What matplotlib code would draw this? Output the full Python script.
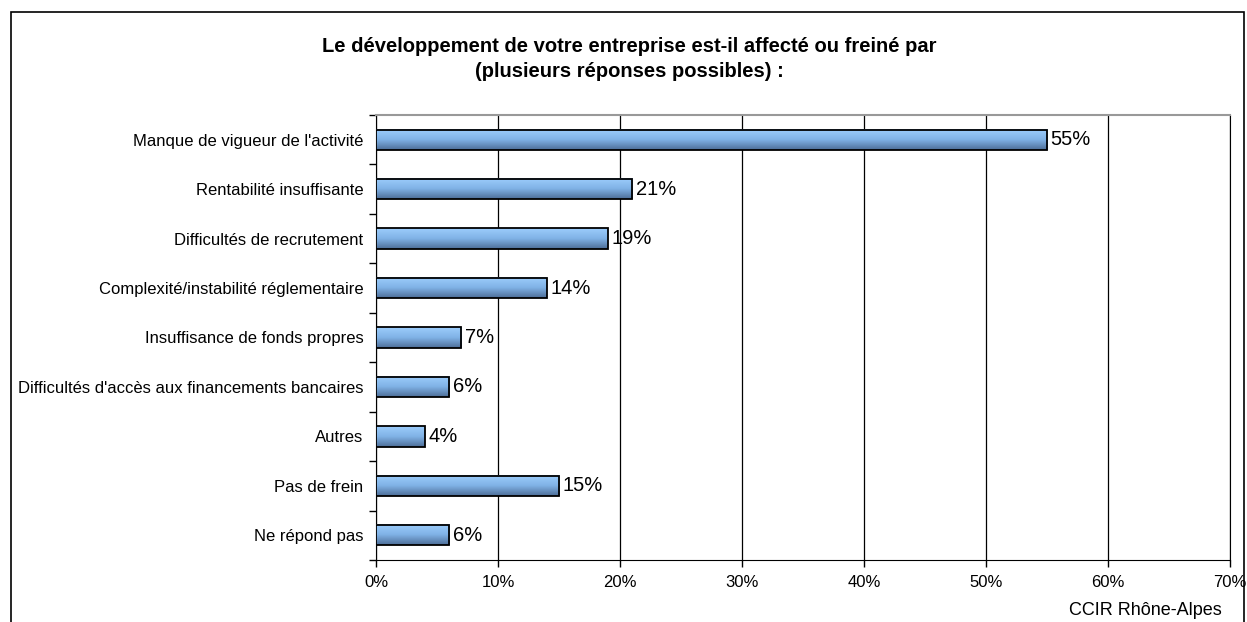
import matplotlib.pyplot as plt
import numpy as np
from matplotlib.patches import Rectangle
from matplotlib.colors import LinearSegmentedColormap

plt.rcParams['font.family'] = ['Liberation Sans', 'DejaVu Sans']

categories = [
    "Manque de vigueur de l'activité",
    "Rentabilité insuffisante",
    "Difficultés de recrutement",
    "Complexité/instabilité réglementaire",
    "Insuffisance de fonds propres",
    "Difficultés d'accès aux financements bancaires",
    "Autres",
    "Pas de frein",
    "Ne répond pas",
]
values = [55, 21, 19, 14, 7, 6, 4, 15, 6]
xticks = [0, 10, 20, 30, 40, 50, 60, 70]

title = "Le développement de votre entreprise est-il affecté ou freiné par\n(plusieurs réponses possibles) :"
source = "CCIR Rhône-Alpes"

fig = plt.figure(figsize=(12.47, 6.22), dpi=100)
ax = fig.add_axes([0.3015, 0.0997, 0.6849, 0.7154])

# cadre extérieur
fig.patches.append(Rectangle((0.0088, -0.05), 0.9888, 0.9807 + 0.05, transform=fig.transFigure,
                             fill=False, edgecolor='black', linewidth=1.2))

cmap = LinearSegmentedColormap.from_list('barfade', ['#9ccdfc', '#80b2e6', '#4d6e98'])
grad = np.linspace(0, 1, 64).reshape(-1, 1)
bar_h = 0.41
ypos = np.arange(len(categories))

for y, v in zip(ypos, values):
    ax.imshow(grad, cmap=cmap, aspect='auto', extent=[0, v, y + bar_h / 2, y - bar_h / 2],
              origin='upper', zorder=3, interpolation='bilinear')
    ax.add_patch(Rectangle((0, y - bar_h / 2), v, bar_h, fill=False,
                           edgecolor='black', linewidth=1.3, zorder=4))
    ax.text(v + 0.3, y, f"{v}%", va='center', ha='left', fontsize=14.5, zorder=5)

ax.set_xlim(0, 70)
ax.set_ylim(len(categories) - 0.5, -0.5)

ax.set_xticks(xticks)
ax.set_xticklabels([f"{t}%" for t in xticks], fontsize=12)
ax.set_yticks(ypos)
ax.set_yticklabels(categories, fontsize=12)
ax.set_yticks(np.arange(len(categories) + 1) - 0.5, minor=True)
ax.tick_params(axis='y', which='major', length=0, pad=9)
ax.tick_params(axis='y', which='minor', length=5, direction='out', width=1)
ax.tick_params(axis='x', length=5, direction='out', width=1, pad=6)
ax.grid(axis='x', color='black', linewidth=0.9, zorder=0)
ax.set_axisbelow(True)

ax.spines['top'].set_color('#999999')
ax.spines['top'].set_linewidth(1.5)
for s in ['right', 'left', 'bottom']:
    ax.spines[s].set_color('black')

fig.text(0.505, 0.905, title, ha='center', va='center', fontsize=14.5, fontweight='bold',
         linespacing=1.4)
fig.text(0.98, 0.018, source, ha='right', va='center', fontsize=13)

fig.savefig('out.png', dpi=100)
